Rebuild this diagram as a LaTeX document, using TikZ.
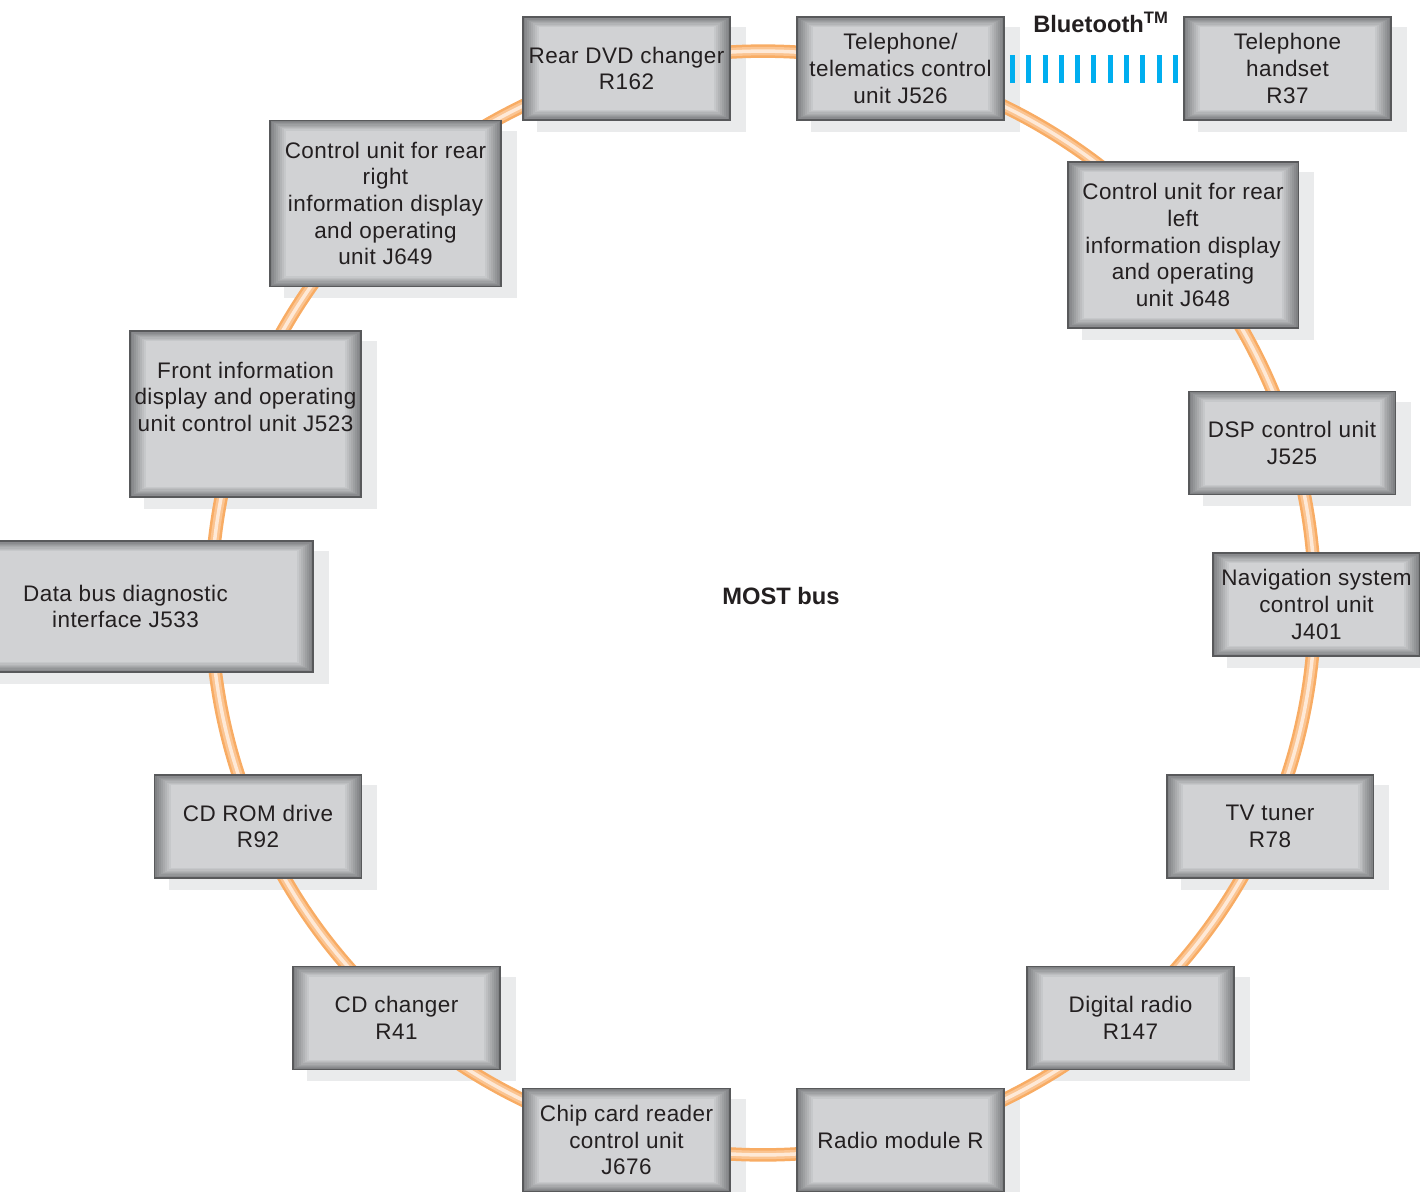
\documentclass[tikz,border=0pt]{standalone}
\usepackage{fontspec}
\setmainfont[LetterSpace=2]{Liberation Sans}
\newfontfamily\titlefont{Liberation Sans}
\definecolor{face}{RGB}{209,210,212}
\definecolor{bevel}{RGB}{128,130,132}
\definecolor{edge}{RGB}{88,89,91}
\definecolor{shadowgray}{RGB}{234,235,236}
\definecolor{ink}{RGB}{35,31,32}
\definecolor{btblue}{RGB}{0,174,239}
\definecolor{ringout}{RGB}{248,172,100}
\definecolor{ringmid}{RGB}{251,196,145}
\definecolor{ringhi}{RGB}{254,233,215}
\pgfdeclarelayer{shadowlayer}
\pgfdeclarelayer{ringlayer}
\pgfsetlayers{shadowlayer,ringlayer,main}
\begin{document}
\begin{tikzpicture}[
    every node/.style={font=\fontsize{12.8}{15.2}\selectfont,text=ink},
    unit/.style={draw=edge,line width=1.1pt,fill=face,align=center,inner sep=2pt,
        minimum width=4.14cm,minimum height=2.06cm,
        path picture={
            \foreach \k in {0,...,8}{
                \pgfmathtruncatemacro\mix{\k*12.5}
                \fill[face!\mix!bevel]
                    ([shift={(\k*.04cm,\k*.025cm)}]path picture bounding box.south west) rectangle
                    ([shift={(-\k*.04cm,-\k*.025cm)}]path picture bounding box.north east);
            }}},
    tall/.style={unit,minimum width=4.62cm,minimum height=3.32cm},
    title/.style={font=\titlefont\fontsize{13.5}{16}\selectfont\bfseries},
    bt/.style={draw=btblue,line width=.56cm,dash pattern=on .1cm off .226cm,
        shorten <=.1cm,shorten >=.1cm}]
    \begin{scope}[x=.02cm,y=-.02cm]
        \useasboundingbox (0,0) rectangle (1420,1191);
        \coordinate (ringc) at (763,603);
        \node[unit] (r162) at (626.5,68.5) {Rear DVD changer\\R162};
        \node[unit] (j526) at (900.5,68.5) {Telephone/\\telematics control\\unit J526};
        \node[unit] (r37) at (1287.5,68.5) {Telephone\\handset\\R37};
        \node[tall] (j648) at (1183,245) {Control unit for rear\\left\\information display\\and operating\\unit J648};
        \node[unit] (j525) at (1292,443) {DSP control unit\\J525};
        \node[unit] (j401) at (1316.5,604.5) {Navigation system\\control unit\\J401};
        \node[unit] (r78) at (1270,826.5) {TV tuner\\R78};
        \node[unit] (r147) at (1130.5,1018) {Digital radio\\R147};
        \node[unit] (rmod) at (900.5,1140) {Radio module R};
        \node[unit] (j676) at (626.5,1140) {Chip card reader\\control unit\\J676};
        \node[unit] (r41) at (396.5,1018) {CD changer\\R41};
        \node[unit] (r92) at (258,826.5) {CD ROM drive\\R92};
        \node[unit,minimum width=7.5cm,minimum height=2.62cm] (j533) at (125.5,606.5) {Data bus diagnostic\\interface J533};
        \node[tall] (j523) at (245.5,414) {Front information\\display and operating\\unit control unit J523\\\strut};
        \node[tall] (j649) at (385.5,203.5) {Control unit for rear\\right\\information display\\and operating\\unit J649};
        \node[title] (most) at (781,596) {MOST bus};
        \node[title] (btlabel) at (1101,22) {Bluetooth\textsuperscript{TM}};
        \draw[bt] (j526) -- (r37);
        \begin{pgfonlayer}{ringlayer}
            \foreach \w/\col in {.27cm/ringout,.17cm/ringmid,.07cm/ringhi}
                \draw[\col,line width=\w] (ringc) circle[radius=11.04cm];
        \end{pgfonlayer}
        \begin{pgfonlayer}{shadowlayer}
            \foreach \n in {r162,j526,r37,j648,j525,j401,r78,r147,rmod,j676,r41,r92,j533,j523,j649}
                \fill[shadowgray] ([shift={(.3cm,-.22cm)}]\n.south west) rectangle ([shift={(.3cm,-.22cm)}]\n.north east);
        \end{pgfonlayer}
    \end{scope}
\end{tikzpicture}
\end{document}
